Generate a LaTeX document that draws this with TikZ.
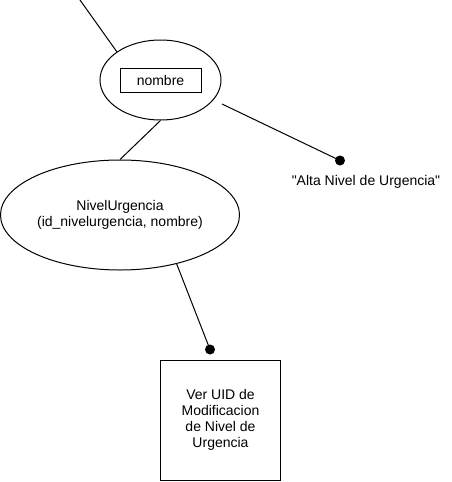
\documentclass[tikz,border=0pt]{standalone}
\usepackage{fontspec}
\setmainfont{Liberation Sans}
\newfontfamily\plainfont{Liberation Sans}[Ligatures=ResetAll]
\usetikzlibrary{shapes.geometric}
\begin{document}
\begin{tikzpicture}[x=1pt,y=-1pt,
  lbl/.style={font=\plainfont\fontsize{14}{16}\selectfont, align=center, inner sep=0pt},
  ell/.style={draw, ellipse, line width=1pt, inner sep=0pt},
  box/.style={draw, rectangle, line width=1pt, inner sep=0pt},
  dotnode/.style={circle, fill=black, inner sep=0pt, minimum size=10pt},
  conn/.style={line width=1pt}]
\useasboundingbox (0,0) rectangle (452,482);
\node[ell, minimum width=121pt, minimum height=80pt] (e1) at (160.5,80) {};
\node[box, minimum width=81pt, minimum height=24pt, lbl] (nom) at (160.5,80) {nombre};
\node[ell, minimum width=239pt, minimum height=110pt, lbl] (e2) at (120,215) {NivelUrgencia\\(id\_nivelurgencia, nombre)};
\node[box, minimum width=120pt, minimum height=120pt, lbl] (ver) at (220.5,420) {Ver UID de\\Modificacion\\de Nivel de\\Urgencia};
\node[dotnode] (d1) at (340,160.5) {};
\node[dotnode] (d2) at (210,349.5) {};
\node[lbl] (alta) at (366,182) {"Alta Nivel de Urgencia"};
\coordinate (top) at (80,0);
\coordinate (t1) at (117,52);
\coordinate (a1) at (222,104);
\coordinate (b1) at (176.7,264);
\draw[conn] (top) -- (t1);
\draw[conn] (a1) -- (d1.center);
\draw[conn] (e1.south) -- (e2.north);
\draw[conn] (b1) -- (d2.center);
\end{tikzpicture}
\end{document}
